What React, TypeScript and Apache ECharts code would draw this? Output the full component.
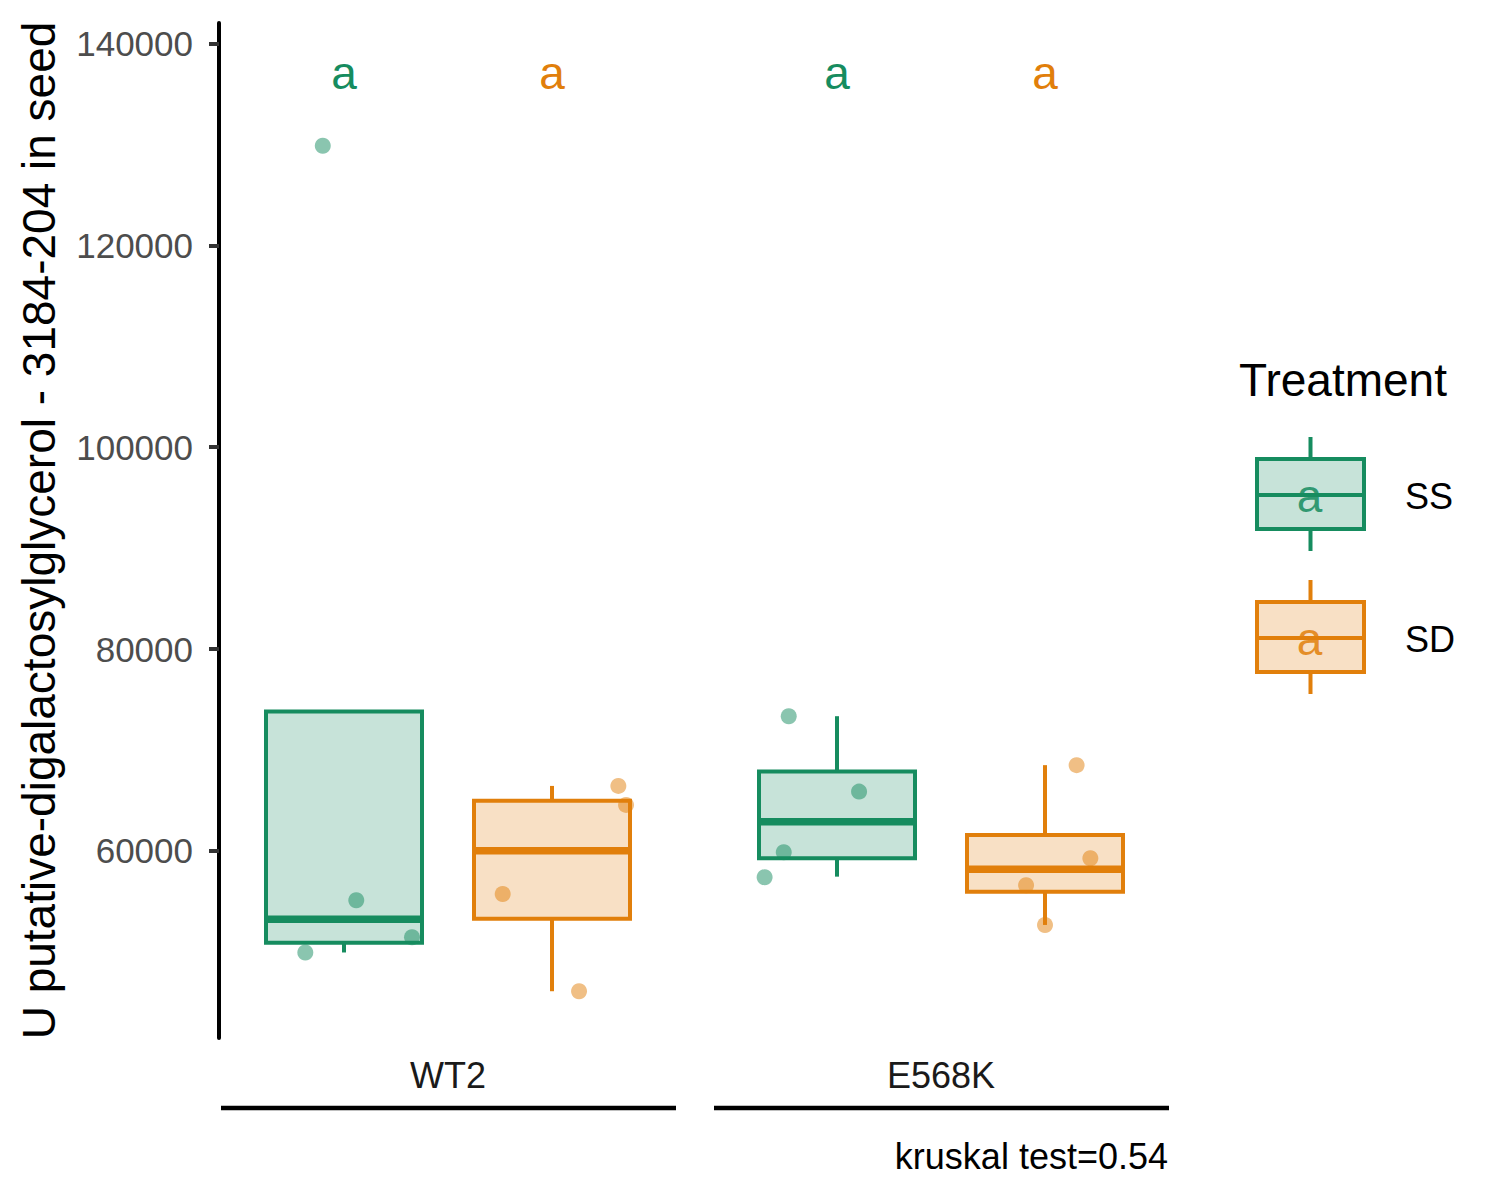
import React, { useEffect, useRef } from 'react';
import * as echarts from 'echarts';

const genotypes = ['WT2', 'E568K'];
const treatments = ['SS', 'SD'];
const colors = ['#168C5F', '#E17F0B'];
const fills = ['rgba(22,140,95,0.24)', 'rgba(225,127,11,0.24)'];
const yTicks = [60000, 80000, 100000, 120000, 140000];
const yMin = 41466;
const yMax = 142033;
const yTitle = 'U putative-digalactosylglycerol - 3184-204 in seed';
const testLabel = 'kruskal test=0.54';
const legendTitle = 'Treatment';

// box stats: [treatment index, lower whisker, Q1, median, Q3, upper whisker]
const boxWT2 = [
  [0, 49940, 50912, 53231, 73806, 73806],
  [1, 46100, 53290, 60030, 64985, 66442],
];
const boxE568K = [
  [0, 57453, 59276, 62904, 67860, 73350],
  [1, 52666, 55966, 58186, 61586, 68500],
];

// jittered points: [x in treatment units, value]
const ptsWT2SS = [[-0.102, 129873], [0.059, 55114], [0.327, 51447], [-0.186, 49940]];
const ptsWT2SD = [[1.319, 66442], [1.356, 64559], [0.763, 55738], [1.13, 46100]];
const ptsE568KSS = [[-0.232, 73350], [0.106, 65877], [-0.256, 59871], [-0.348, 57393]];
const ptsE568KSD = [[1.152, 68500], [1.218, 59276], [0.909, 56603], [1.0, 52666]];

// significance letters
const lettersWT2 = ['a', 'a'];
const lettersE568K = ['a', 'a'];
const letterY = 137100;

const FONT = "'Liberation Sans', Arial, Helvetica, sans-serif";

function boxSeries(data: number[][], xi: number, yi: number) {
  return {
    type: 'custom',
    xAxisIndex: xi,
    yAxisIndex: yi,
    data,
    encode: { x: 0, y: [1, 2, 3, 4, 5] },
    renderItem: (params: any, api: any) => {
      const x = api.value(0);
      const lo = api.coord([x, api.value(1)]);
      const q1 = api.coord([x, api.value(2)]);
      const md = api.coord([x, api.value(3)]);
      const q3 = api.coord([x, api.value(4)]);
      const hi = api.coord([x, api.value(5)]);
      const bw = api.size([1, 0])[0] * 0.75;
      const cx = q1[0];
      const c = colors[x];
      const f = fills[x];
      return {
        type: 'group',
        children: [
          { type: 'line', shape: { x1: cx, y1: hi[1], x2: cx, y2: q3[1] }, style: { stroke: c, lineWidth: 4 } },
          { type: 'line', shape: { x1: cx, y1: q1[1], x2: cx, y2: lo[1] }, style: { stroke: c, lineWidth: 4 } },
          { type: 'rect', shape: { x: cx - bw / 2, y: q3[1], width: bw, height: q1[1] - q3[1] }, style: { fill: f, stroke: c, lineWidth: 4 } },
          { type: 'line', shape: { x1: cx - bw / 2, y1: md[1], x2: cx + bw / 2, y2: md[1] }, style: { stroke: c, lineWidth: 7.5 } },
        ],
      };
    },
    z: 2,
  };
}

function pointSeries(data: number[][], t: number, xi: number, yi: number) {
  return {
    type: 'scatter',
    xAxisIndex: xi,
    yAxisIndex: yi,
    data,
    symbolSize: 16,
    itemStyle: { color: colors[t], opacity: 0.5 },
    z: 3,
  };
}

function letterSeries(letters: string[], xi: number, yi: number) {
  return {
    type: 'custom',
    xAxisIndex: xi,
    yAxisIndex: yi,
    data: letters.map((_, i) => [i, letterY]),
    encode: { x: 0, y: 1 },
    renderItem: (params: any, api: any) => {
      const p = api.coord([api.value(0), api.value(1)]);
      return {
        type: 'text',
        x: p[0],
        y: p[1],
        style: {
          text: letters[params.dataIndex],
          fill: colors[params.dataIndex],
          font: `46px ${FONT}`,
          align: 'center',
          verticalAlign: 'middle',
        },
      };
    },
    z: 4,
  };
}

function catAxis(gridIndex: number, name: string) {
  return {
    type: 'category',
    gridIndex,
    data: treatments,
    boundaryGap: true,
    axisLine: { show: false, onZero: false },
    axisTick: { show: false },
    axisLabel: { show: false },
    splitLine: { show: false },
    name,
    nameLocation: 'middle',
    nameGap: 37,
    nameTextStyle: { fontSize: 36, color: '#1A1A1A', fontFamily: FONT, verticalAlign: 'middle' },
  };
}

function valXAxis(gridIndex: number) {
  return { type: 'value', gridIndex, min: -0.5, max: 1.5, show: false, axisLine: { onZero: false } };
}

export default function App() {
  const ref = useRef<HTMLDivElement>(null);
  useEffect(() => {
    document.body.style.margin = '0';
    const chart = echarts.init(ref.current!, undefined, { renderer: 'svg' });

    const legendChildren: any[] = [
      {
        type: 'text',
        x: 1239,
        y: 380,
        style: { text: legendTitle, font: `46px ${FONT}`, fill: '#000', align: 'left', verticalAlign: 'middle' },
      },
    ];
    treatments.forEach((t, i) => {
      const top = 459 + i * 143;
      const mid = top + 36;
      const cx = 1310.5;
      legendChildren.push(
        { type: 'line', shape: { x1: cx, y1: top - 22, x2: cx, y2: top }, style: { stroke: colors[i], lineWidth: 4 } },
        { type: 'line', shape: { x1: cx, y1: top + 70, x2: cx, y2: top + 92 }, style: { stroke: colors[i], lineWidth: 4 } },
        { type: 'rect', shape: { x: 1257, y: top, width: 107, height: 70 }, style: { fill: fills[i], stroke: colors[i], lineWidth: 4 } },
        { type: 'line', shape: { x1: 1257, y1: mid, x2: 1364, y2: mid }, style: { stroke: colors[i], lineWidth: 4 } },
        { type: 'text', x: cx - 1, y: mid + 1, style: { text: 'a', font: `46px ${FONT}`, fill: colors[i], opacity: 0.85, align: 'center', verticalAlign: 'middle' } },
        { type: 'text', x: 1405, y: mid + 1, style: { text: t, font: `36px ${FONT}`, fill: '#000', align: 'left', verticalAlign: 'middle' } },
      );
    });

    const option: any = {
      animation: false,
      backgroundColor: '#fff',
      grid: [
        { left: 240, top: 23, width: 416, height: 1015 },
        { left: 733, top: 23, width: 416, height: 1015 },
      ],
      xAxis: [catAxis(0, genotypes[0]), valXAxis(0), catAxis(1, genotypes[1]), valXAxis(1)],
      yAxis: [
        {
          type: 'value',
          gridIndex: 0,
          min: yMin,
          max: yMax,
          offset: 21,
          axisLine: { show: true, onZero: false, lineStyle: { color: '#000', width: 4 } },
          axisTick: { show: true, length: 10, lineStyle: { color: '#333', width: 4 }, customValues: yTicks },
          axisLabel: {
            show: true,
            customValues: yTicks,
            margin: 26,
            fontSize: 35,
            color: '#4D4D4D',
            fontFamily: FONT,
            formatter: (v: number) => String(v),
          },
          splitLine: { show: false },
          name: yTitle,
          nameLocation: 'middle',
          nameRotate: 90,
          nameGap: 180,
          nameTextStyle: { fontSize: 46, color: '#000', fontFamily: FONT, verticalAlign: 'middle' },
        },
        { type: 'value', gridIndex: 1, min: yMin, max: yMax, show: false, axisLine: { onZero: false }, splitLine: { show: false } },
      ],
      series: [
        boxSeries(boxWT2, 0, 0),
        boxSeries(boxE568K, 2, 1),
        pointSeries(ptsWT2SS, 0, 1, 0),
        pointSeries(ptsWT2SD, 1, 1, 0),
        pointSeries(ptsE568KSS, 0, 3, 1),
        pointSeries(ptsE568KSD, 1, 3, 1),
        letterSeries(lettersWT2, 0, 0),
        letterSeries(lettersE568K, 2, 1),
      ],
      graphic: [
        { type: 'line', shape: { x1: 221, y1: 1108, x2: 676, y2: 1108 }, style: { stroke: '#000', lineWidth: 4.5 } },
        { type: 'line', shape: { x1: 714, y1: 1108, x2: 1169, y2: 1108 }, style: { stroke: '#000', lineWidth: 4.5 } },
        {
          type: 'text',
          x: 1168,
          y: 1156,
          style: { text: testLabel, font: `36px ${FONT}`, fill: '#000', align: 'right', verticalAlign: 'middle' },
        },
        { type: 'group', children: legendChildren },
      ],
    };
    chart.setOption(option);
    return () => chart.dispose();
  }, []);
  return <div ref={ref} style={{ width: 1500, height: 1200 }} />;
}
